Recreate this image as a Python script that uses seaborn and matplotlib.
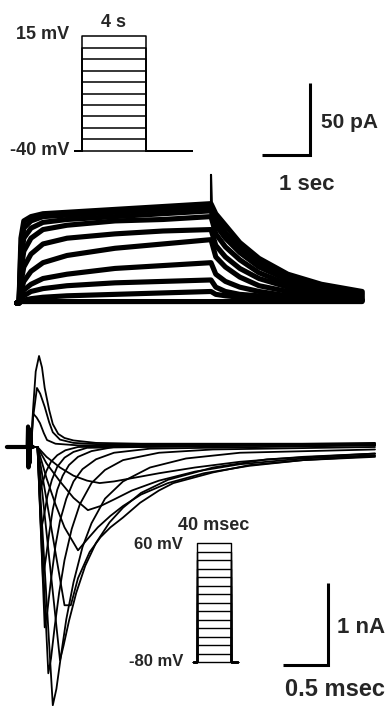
import matplotlib
matplotlib.use("Agg")
import matplotlib.pyplot as plt
import pandas as pd
import seaborn as sns

# ---- top: slowly activating K+ current (s, pA) ----
k_step_t = [-0.05, 0.0, 0.04, 0.1, 0.25, 0.5, 1.0, 2.0, 3.0, 4.0]
k_step_pA = [
    [0, 0, 1, 1, 1, 1, 1, 1, 1, 1],
    [0, 0, 1, 2, 3, 4, 5, 6, 7, 8],
    [0, 0, 3, 5, 8, 10, 12, 14, 15, 16],
    [0, 0, 5, 9, 13, 17, 20, 24, 26, 28],
    [0, 0, 8, 15, 22, 28, 33, 38, 41, 44],
    [0, 0, 14, 25, 34, 41, 45, 48, 50, 51],
    [0, 0, 22, 36, 45, 51, 54, 57, 58, 60],
    [0, 0, 30, 45, 52, 56, 58, 60, 62, 64],
    [0, 0, 38, 52, 57, 60, 61, 63, 65, 67],
    [0, 0, 45, 57, 60, 62, 63, 65, 67, 69],
]
k_tail_t = [4.0, 4.1, 4.3, 4.6, 5.0, 5.6, 6.3, 7.15]
k_tail_pA = [
    [1, 1, 1, 1, 1, 1, 1, 1],
    [8, 6, 5, 4, 3, 3, 2, 2],
    [16, 11, 8, 6, 5, 4, 3, 2],
    [28, 20, 15, 11, 8, 5, 4, 2],
    [44, 32, 25, 18, 12, 8, 5, 3],
    [51, 40, 32, 24, 17, 11, 7, 4],
    [60, 48, 39, 30, 21, 13, 8, 5],
    [64, 54, 45, 35, 25, 16, 10, 6],
    [67, 58, 49, 38, 28, 18, 11, 7],
    [69, 62, 54, 42, 31, 20, 13, 8],
]
k_spike_t = [4.0, 4.0, 4.02]
k_spike_pA = [69, 89, 66]

# top voltage protocol (mV), 4 s steps from -40 mV
k_levels = [-40, -34.5, -29, -23.5, -18, -12.5, -7, -1.5, 4, 9.5, 15]
k_prot_t = [-0.44, 0, 0, 4, 4, 6.9]

# ---- bottom: fast Na+ current family (ms, nA) ----
na_pre_t = -0.29
na_in_t = [
    [0.05, 0.15, 0.3, 0.45, 0.6, 0.74, 0.9, 1.1, 1.4, 1.8, 2.3, 3.0, 3.8],
    [0.05, 0.15, 0.3, 0.45, 0.61, 0.75, 0.9, 1.1, 1.4, 1.8, 2.3, 3.0, 3.8],
    [0.05, 0.15, 0.25, 0.35, 0.5, 0.6, 0.72, 0.86, 1.0, 1.2, 1.5, 1.9, 2.4, 3.0, 3.8],
    [0.05, 0.35, 0.42, 0.5, 0.63, 0.75, 0.86, 1.0, 1.19, 1.4, 1.56, 2.0, 2.41, 3.0, 3.8],
    [0.05, 0.30, 0.34, 0.4, 0.48, 0.58, 0.7, 0.85, 1.0, 1.2, 1.5, 2.0, 2.6, 3.8],
    [0.05, 0.22, 0.26, 0.31, 0.37, 0.45, 0.55, 0.65, 0.8, 1.0, 1.3, 1.7, 2.3, 3.8],
    [0.05, 0.17, 0.2, 0.24, 0.29, 0.35, 0.43, 0.52, 0.65, 0.8, 1.0, 1.4, 2.0, 3.8],
    [0.05, 0.13, 0.16, 0.2, 0.25, 0.3, 0.37, 0.45, 0.55, 0.7, 0.9, 1.3, 3.8],
    [0.05, 0.11, 0.14, 0.18, 0.22, 0.27, 0.33, 0.4, 0.5, 0.65, 0.9, 3.8],
    [0.05, 0.09, 0.12, 0.16, 0.21, 0.27, 0.35, 0.45, 0.6, 3.8],
    [0.05, 0.08, 0.11, 0.15, 0.2, 0.27, 0.36, 0.5, 3.8],
]
na_in_nA = [
    [0, -0.12, -0.25, -0.35, -0.41, -0.44, -0.42, -0.38, -0.32, -0.25, -0.18, -0.12, -0.08],
    [0, -0.20, -0.42, -0.62, -0.77, -0.72, -0.64, -0.53, -0.41, -0.30, -0.21, -0.14, -0.10],
    [0, -0.38, -0.70, -0.98, -1.26, -1.13, -0.98, -0.84, -0.72, -0.58, -0.44, -0.32, -0.23, -0.16, -0.11],
    [0, -1.93, -1.93, -1.60, -1.28, -1.10, -0.98, -0.86, -0.68, -0.53, -0.44, -0.31, -0.22, -0.16, -0.12],
    [0, -2.60, -2.42, -2.12, -1.78, -1.45, -1.17, -0.92, -0.74, -0.56, -0.40, -0.25, -0.15, -0.08],
    [0, -3.15, -2.95, -2.55, -2.10, -1.65, -1.22, -0.93, -0.63, -0.42, -0.25, -0.14, -0.07, -0.03],
    [0, -2.76, -2.58, -2.20, -1.78, -1.38, -1.00, -0.70, -0.44, -0.28, -0.16, -0.07, -0.03, 0.0],
    [0, -2.20, -2.00, -1.62, -1.20, -0.90, -0.63, -0.42, -0.27, -0.15, -0.07, -0.02, 0.02],
    [0, -1.59, -1.38, -1.05, -0.76, -0.52, -0.35, -0.22, -0.12, -0.05, 0.0, 0.03],
    [0, -1.01, -0.85, -0.60, -0.40, -0.24, -0.13, -0.06, -0.01, 0.04],
    [0, -0.52, -0.42, -0.29, -0.18, -0.10, -0.04, 0.0, 0.05],
]
na_out_t = [
    [-0.02, 0.0, 0.03, 0.067, 0.1, 0.13, 0.18, 0.22, 0.28, 0.35, 0.45, 0.7, 1.2, 3.8],
    [-0.02, 0.0, 0.044, 0.08, 0.13, 0.18, 0.22, 0.3, 0.45, 0.8, 3.8],
    [-0.02, 0.0, 0.04, 0.078, 0.12, 0.156, 0.25, 0.5, 3.8],
]
na_out_nA = [
    [0, 0.45, 0.92, 1.11, 0.97, 0.72, 0.45, 0.28, 0.16, 0.11, 0.08, 0.05, 0.04, 0.04],
    [0, 0.35, 0.72, 0.65, 0.49, 0.30, 0.18, 0.09, 0.05, 0.03, 0.03],
    [0, 0.41, 0.36, 0.29, 0.17, 0.085, 0.04, 0.02, 0.02],
]
# stimulus artefact riding on the holding baseline
na_art_t = [-0.29, -0.06, -0.055, -0.05, -0.045, -0.04, -0.03, -0.02, 0.0]
na_art_nA = [0, 0, 0.25, -0.25, 0.22, -0.2, 0.12, 0.0, 0.0]

# bottom voltage protocol (mV), 40 ms steps from -80 mV
na_levels = [-80, -70, -60, -50, -40, -30, -20, -10, 0, 10, 20, 30, 40, 50, 60]
na_prot_t = [-4.7, 0, 0, 40, 40, 48.2]


def long_form(ts, vs):
    rows = []
    for k, (t, v) in enumerate(zip(ts, vs)):
        for a, b in zip(t, v):
            rows.append((k, a, b))
    return pd.DataFrame(rows, columns=["trace", "x", "y"])


sns.set_theme(style="white")
plt.rcParams["font.family"] = ["Liberation Sans", "DejaVu Sans"]
plt.rcParams["font.weight"] = "bold"

W, H = 388, 706
fig = plt.figure(figsize=(W / 100, H / 100), dpi=100)
fig.patch.set_facecolor("white")


def px_axes(x0, y0, x1, y1):
    ax = fig.add_axes([x0 / W, 1 - y1 / H, (x1 - x0) / W, (y1 - y0) / H])
    ax.set_axis_off()
    ax.patch.set_alpha(0)
    return ax


def draw(ax, df, lw):
    sns.lineplot(data=df, x="x", y="y", units="trace", estimator=None,
                 sort=False, color="black", linewidth=lw, ax=ax, legend=False)
    ax.set_axis_off()


# top current traces: 48 px per s, 1.44 px per pA
ax_k = px_axes(0, 60, W, 330)
k_t = [k_step_t + k_tail_t[1:] for _ in k_step_pA]
k_v = [s + tl[1:] for s, tl in zip(k_step_pA, k_tail_pA)]
draw(ax_k, long_form(k_t, k_v), 3.7)
draw(ax_k, long_form([k_spike_t], [k_spike_pA]), 1.5)
ax_k.set_xlim(-19 / 48, 369 / 48)
ax_k.set_ylim(-27 / 1.44, 243 / 1.44)
# scale bar 1 s / 50 pA
ax_k.plot([5.0625, 6.0625, 6.0625], [102.8, 102.8, 152.8], color="black",
          lw=2.2, solid_capstyle="butt", solid_joinstyle="miter")
ax_k.text(6.30, 125, "50 pA", fontsize=15, ha="left", va="center")
ax_k.text(6.0, 82, "1 sec", fontsize=16, ha="center", va="center")

# top voltage protocol: 16 px per s, 2.09 px per mV
ax_kp = px_axes(0, 0, 220, 170)
draw(ax_kp, long_form([k_prot_t] * len(k_levels),
                      [[-40, -40, lv, lv, -40, -40] for lv in k_levels]), 1.1)
ax_kp.set_xlim(-82 / 16, 138 / 16)
ax_kp.set_ylim(-40 - 19 / 2.09, 15 + 36 / 2.09)
ax_kp.text(-0.8, 15.5, "15 mV", fontsize=13, ha="right", va="center")
ax_kp.text(-0.8, -40, "-40 mV", fontsize=13, ha="right", va="center")
ax_kp.text(2, 21.5, "4 s", fontsize=13, ha="center", va="center")

# bottom Na traces: 90 px per ms, 82 px per nA
ax_na = px_axes(0, 330, W, H)
na_t = [[na_pre_t] + t for t in na_in_t + na_out_t]
na_v = [[0] + v for v in na_in_nA + na_out_nA]
draw(ax_na, long_form(na_t, na_v), 1.3)
draw(ax_na, long_form([na_art_t], [na_art_nA]), 3.0)
ax_na.set_xlim(-33 / 90, 355 / 90)
ax_na.set_ylim(-259 / 82, 117 / 82)
for ln in ax_na.lines:
    ln.set_clip_on(False)
ax_na.plot([2.778, 3.278, 3.278], [-2.659, -2.659, -1.659], color="black",
           lw=2.2, solid_capstyle="butt", solid_joinstyle="miter")
ax_na.text(3.378, -2.207, "1 nA", fontsize=16, ha="left", va="center")
ax_na.text(3.355, -2.96, "0.5 msec", fontsize=17, ha="center", va="center")

# bottom voltage protocol: 0.85 px per ms and per mV
ax_np = px_axes(100, 500, 260, 680)
draw(ax_np, long_form([na_prot_t] * len(na_levels),
                      [[-80, -80, lv, lv, -80, -80] for lv in na_levels]), 1.0)
ax_np.set_xlim(-97 / 0.85, 63 / 0.85)
ax_np.set_ylim(-80 - 18 / 0.85, 60 + 43 / 0.85)
ax_np.text(-16.5, 58, "60 mV", fontsize=12, ha="right", va="center")
ax_np.text(-16.5, -80, "-80 mV", fontsize=12, ha="right", va="center")
ax_np.text(20, 81, "40 msec", fontsize=13, ha="center", va="center")

fig.savefig("out.png", dpi=100, facecolor="white")
